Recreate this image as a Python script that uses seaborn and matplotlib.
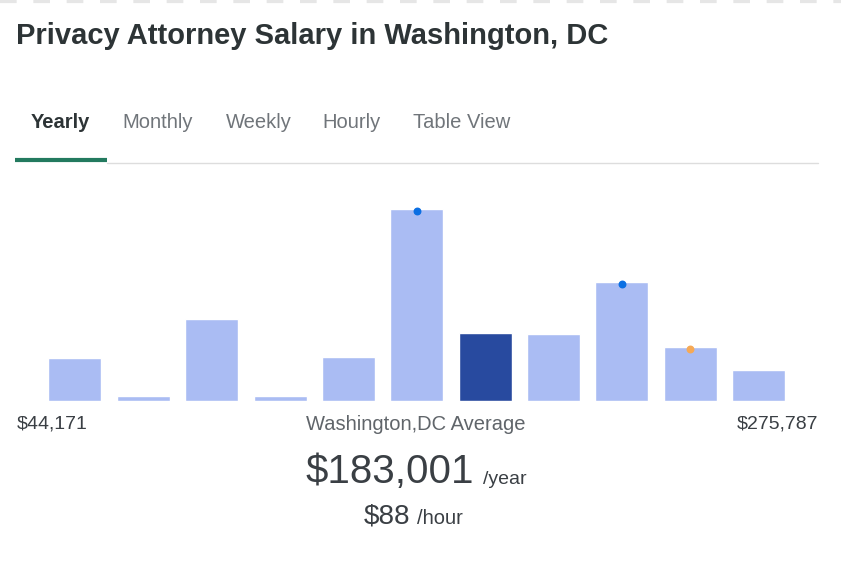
import pandas as pd
import seaborn as sns
import matplotlib.pyplot as plt
from matplotlib.lines import Line2D

# salary buckets (heights, arbitrary units)
buckets = ["b1", "b2", "b3", "b4", "b5", "b6", "b7", "b8", "b9", "b10", "b11"]
counts = [43, 5, 82, 5, 44, 192, 68, 67, 119, 54, 31]
highlight = "b7"
blue_dots = ["b6", "b9"]
orange_dots = ["b10"]

tabs = ["Yearly", "Monthly", "Weekly", "Hourly", "Table View"]
tab_x = [31, 122, 226, 322, 413]
low_label = "$44,171"
high_label = "$275,787"
avg_label = "Washington,DC Average"
avg_year = "$183,001"
avg_hour = "$88"

W, H = 841, 580
sns.set_theme(style="white")
plt.rcParams['font.family'] = ['Liberation Sans', 'DejaVu Sans']

fig = plt.figure(figsize=(W / 100, H / 100), dpi=100)


def fx(x):
    return x / W


def fy(y):
    return 1 - y / H


# chart axes: baseline at y=401, bar pitch ~68.35px
left, right = 40.8, 792.7
top, bottom = 200, 401
ax = fig.add_axes([fx(left), fy(bottom), (right - left) / W, (bottom - top) / H])

data = pd.DataFrame({"bucket": buckets, "count": counts})
light, dark = "#aabcf3", "#284a9f"
palette = {b: (dark if b == highlight else light) for b in buckets}
sns.barplot(data=data, x="bucket", y="count", hue="bucket", palette=palette,
            legend=False, width=0.775, saturation=1, ax=ax)

for b, c in zip(buckets, counts):
    if b in blue_dots:
        ax.scatter(buckets.index(b), c - 2, s=22, color="#0b6fe3", zorder=5)
    if b in orange_dots:
        ax.scatter(buckets.index(b), c - 2, s=22, color="#f6a955", zorder=5)

ax.set_xlim(-0.5, len(buckets) - 0.5)
ax.set_ylim(0, bottom - top)
ax.axis("off")

# dashed border at the very top
fig.add_artist(Line2D([0, 1], [fy(1), fy(1)], color="#e6e6e6", lw=3,
                      linestyle=(0, (4, 4)), transform=fig.transFigure))

fig.text(fx(16), fy(36), "Privacy Attorney Salary in Washington, DC",
         fontsize=21, fontweight="bold", color="#2d3436", va="center", ha="left")

for i, (t, x) in enumerate(zip(tabs, tab_x)):
    fig.text(fx(x), fy(123), t, fontsize=14.5,
             fontweight="bold" if i == 0 else "normal",
             color="#2d3436" if i == 0 else "#70757a", va="center", ha="left")

fig.add_artist(Line2D([fx(107), fx(818)], [fy(163), fy(163)], color="#dddddd",
                      lw=1, transform=fig.transFigure))
fig.add_artist(Line2D([fx(15), fx(107)], [fy(160), fy(160)], color="#237a5f",
                      lw=3, transform=fig.transFigure, solid_capstyle="butt"))

fig.text(fx(17), fy(424), low_label, fontsize=14, color="#3a3f44", va="center", ha="left")
fig.text(fx(818), fy(424), high_label, fontsize=14, color="#3a3f44", va="center", ha="right")
fig.text(fx(416), fy(424), avg_label, fontsize=14.5, color="#60656a", va="center", ha="center")

fig.text(fx(474), fy(472), avg_year, fontsize=29, color="#3a3f44", va="center", ha="right")
fig.text(fx(483), fy(479), "/year", fontsize=14, color="#3a3f44", va="center", ha="left")
fig.text(fx(410), fy(516), avg_hour, fontsize=20, color="#3a3f44", va="center", ha="right")
fig.text(fx(417), fy(519), "/hour", fontsize=14.5, color="#3a3f44", va="center", ha="left")

fig.savefig("out.png", dpi=100, facecolor="white")
